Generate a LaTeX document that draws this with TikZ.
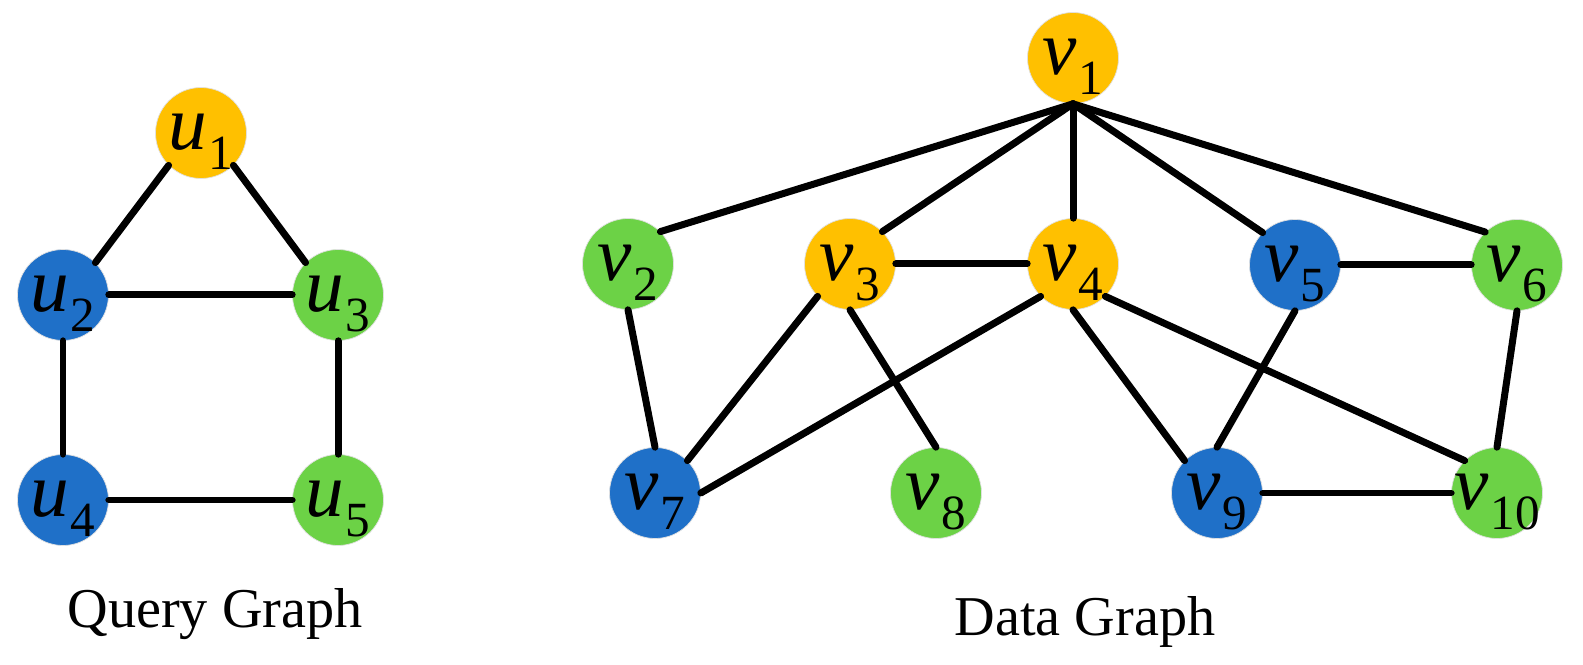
\documentclass[tikz,border=0pt]{standalone}
\usepackage{fontspec}
\setmainfont{Liberation Serif}
\definecolor{qorange}{HTML}{FFC000}
\definecolor{qblue}{HTML}{1F70C8}
\definecolor{qgreen}{HTML}{6CD246}
\newcommand\nlab[2]{{\fontsize{44}{44}\selectfont\itshape #1}\kern1pt\raisebox{-11pt}{\fontsize{28}{28}\selectfont #2}}
\begin{document}
\begin{tikzpicture}[x=0.02cm,y=-0.02cm,
  vert/.style={circle,minimum size=1.82cm,inner sep=0pt,draw=black!12,line width=0.4pt},
  orng/.style={vert,fill=qorange},
  blu/.style={vert,fill=qblue},
  grn/.style={vert,fill=qgreen},
  lbl/.style={anchor=base,yshift=-0.34cm,inner sep=0pt},
  edge/.style={line width=0.14cm,line cap=round},
  title/.style={font=\fontsize{32}{32}\selectfont,anchor=base,inner sep=0pt}]
\useasboundingbox (0,0) rectangle (1583,665);
% query graph nodes
\node[orng] (u1) at (201,133) {};
\node[blu]  (u2) at (63,295) {};
\node[grn]  (u3) at (338,295) {};
\node[blu]  (u4) at (63,500) {};
\node[grn]  (u5) at (338,500) {};
% data graph nodes
\node[orng] (v1) at (1073,58) {};
\node[grn]  (v2) at (628,264) {};
\node[orng] (v3) at (850,264) {};
\node[orng] (v4) at (1073,264) {};
\node[blu]  (v5) at (1295,265) {};
\node[grn]  (v6) at (1517,265) {};
\node[blu]  (v7) at (655,493) {};
\node[grn]  (v8) at (936,493) {};
\node[blu]  (v9) at (1217,493) {};
\node[grn]  (v10) at (1497,493) {};
% query edges
\draw[edge] (u1.225) -- (u2.45);
\draw[edge] (u1.-45) -- (u3.135);
\draw[edge] (u2.east) -- (u3.west);
\draw[edge] (u2.south) -- (u4.north);
\draw[edge] (u3.south) -- (u5.north);
\draw[edge] (u4.east) -- (u5.west);
% data edges
\draw[edge] (v1.south) -- (v2.45);
\draw[edge] (v1.south) -- (v3.45);
\draw[edge] (v1.south) -- (v4.north);
\draw[edge] (v1.south) -- (v5.135);
\draw[edge] (v1.south) -- (v6.134);
\draw[edge] (v3.east) -- (v4.west);
\draw[edge] (v5.east) -- (v6.west);
\draw[edge] (v2.south) -- (v7.north);
\draw[edge] (v3.225) -- (v7.45);
\draw[edge] (v4.225) -- (v7.east);
\draw[edge] (v3.south) -- (v8.north);
\draw[edge] (v4.south) -- (v9.135);
\draw[edge] (v4.-45) -- (v10.135);
\draw[edge] (v5.south) -- (v9.north);
\draw[edge] (v6.south) -- (v10.north);
\draw[edge] (v9.east) -- (v10.west);
% labels
\node[lbl] (u1t) at (u1) {\nlab{u}{1}};
\node[lbl] (u2t) at (u2) {\nlab{u}{2}};
\node[lbl] (u3t) at (u3) {\nlab{u}{3}};
\node[lbl] (u4t) at (u4) {\nlab{u}{4}};
\node[lbl] (u5t) at (u5) {\nlab{u}{5}};
\node[lbl] (v1t) at (v1) {\nlab{v}{1}};
\node[lbl] (v2t) at (v2) {\nlab{v}{2}};
\node[lbl] (v3t) at (v3) {\nlab{v}{3}};
\node[lbl] (v4t) at (v4) {\nlab{v}{4}};
\node[lbl] (v5t) at (v5) {\nlab{v}{5}};
\node[lbl] (v6t) at (v6) {\nlab{v}{6}};
\node[lbl] (v7t) at (v7) {\nlab{v}{7}};
\node[lbl] (v8t) at (v8) {\nlab{v}{8}};
\node[lbl] (v9t) at (v9) {\nlab{v}{9}};
\node[lbl] (v10t) at (v10) {\nlab{v}{10}};
% titles
\node[title] (qt) at (215,627) {Query Graph};
\node[title] (dt) at (1085,635) {Data Graph};
\end{tikzpicture}
\end{document}
